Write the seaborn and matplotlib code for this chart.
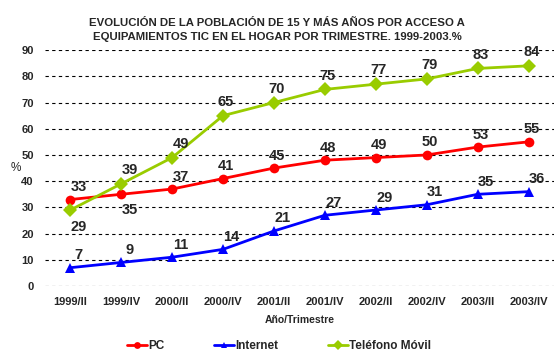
import matplotlib
matplotlib.use("Agg")
from matplotlib import pyplot as plt
import seaborn as sns
import pandas as pd

periodos = ["1999/II", "1999/IV", "2000/II", "2000/IV", "2001/II",
            "2001/IV", "2002/II", "2002/IV", "2003/II", "2003/IV"]
pc = [33, 35, 37, 41, 45, 48, 49, 50, 53, 55]
internet = [7, 9, 11, 14, 21, 27, 29, 31, 35, 36]
movil = [29, 39, 49, 65, 70, 75, 77, 79, 83, 84]

sns.set_style("white")
plt.rcParams['font.family'] = ['Liberation Sans', 'DejaVu Sans']
plt.rcParams['font.weight'] = 'bold'

df = pd.DataFrame({"x": list(range(len(periodos))) * 3,
                   "valor": pc + internet + movil,
                   "serie": ["PC"] * 10 + ["Internet"] * 10 + ["Teléfono Móvil"] * 10})

colores = {"PC": "#FF0000", "Internet": "#0000FF", "Teléfono Móvil": "#99CC00"}
marcas = {"PC": "o", "Internet": "^", "Teléfono Móvil": "D"}

fig = plt.figure(figsize=(5.54, 3.63), dpi=100)
ax = fig.add_axes([0.081, 0.212, 0.919, 0.65])

sns.lineplot(data=df, x="x", y="valor", hue="serie", style="serie",
             palette=colores, markers=marcas, dashes=False, markersize=7,
             markeredgewidth=0, linewidth=2, ax=ax)

ax.set_xlim(-0.5, 9.5)
ax.set_ylim(0, 90)
ax.set_yticks(range(0, 91, 10))
ax.set_xticks(range(len(periodos)))
ax.set_xticklabels(periodos)
ax.tick_params(labelsize=8, length=0, pad=8)
ax.grid(axis="y", color="black", linestyle=(0, (3, 3)), linewidth=0.8)
ax.set_axisbelow(True)
for s in ax.spines.values():
    s.set_visible(False)

# etiquetas de valores
fs = 10.5
for i, v in enumerate(pc):
    dy = -11 if i == 1 else 9
    dx = 6 if i in (0, 1, 2) else 2
    ax.annotate(str(v), (i, v), xytext=(dx, dy), textcoords="offset points",
                ha="center", va="center", fontsize=fs)
for i, v in enumerate(internet):
    ax.annotate(str(v), (i, v), xytext=(6, 9), textcoords="offset points",
                ha="center", va="center", fontsize=fs)
for i, v in enumerate(movil):
    dy = -12 if i == 0 else 10
    dx = 6 if i in (0, 1, 2) else 2
    ax.annotate(str(v), (i, v), xytext=(dx, dy), textcoords="offset points",
                ha="center", va="center", fontsize=fs)

ax.set_xlabel("Año/Trimestre", fontsize=7.5, fontweight="bold", labelpad=6)
ax.set_ylabel("%", fontsize=8.5, rotation=0, labelpad=4, va="center")

fig.suptitle("EVOLUCIÓN DE LA POBLACIÓN DE 15 Y MÁS AÑOS POR ACCESO A\n"
             "EQUIPAMIENTOS TIC EN EL HOGAR POR TRIMESTRE. 1999-2003.%",
             fontsize=8.2, fontweight="bold", y=0.95, linespacing=1.5)

ax.legend(loc="upper center", bbox_to_anchor=(0.46, -0.185), ncol=3,
          frameon=False, fontsize=8.5, handlelength=1.7, columnspacing=4.2,
          handletextpad=0.1, markerscale=0.7)

fig.savefig("out.png", dpi=100)
